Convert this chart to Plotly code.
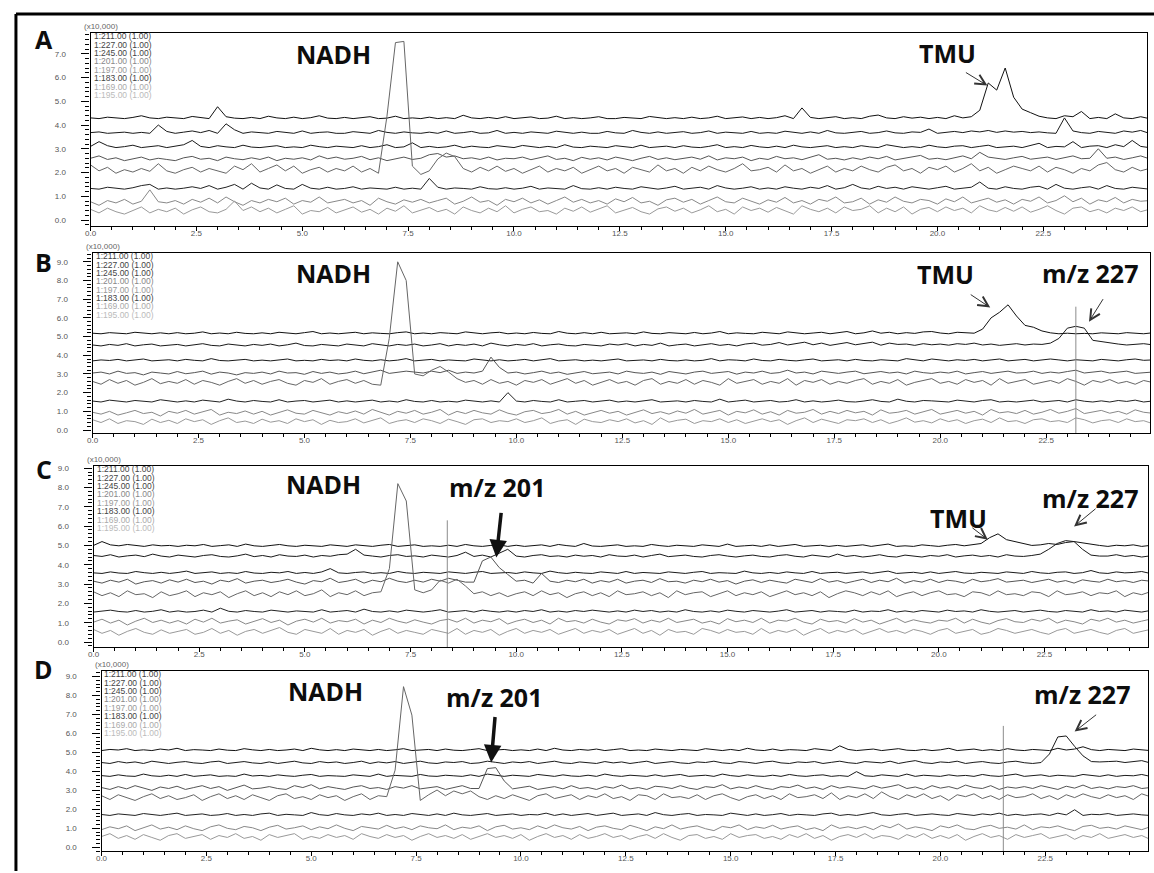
import plotly.graph_objects as go

# Scan times (min), one sample every 0.2 min
TIME = [round(0.2 * i, 1) for i in range(126)]

MZ = ["211", "227", "245", "201", "197", "183", "169", "195"]
LEGEND = ["1:%s.00 (1.00)" % m for m in MZ]
LINE_COLORS = ["#111111", "#1a1a1a", "#1a1a1a", "#555555", "#666666", "#222222", "#888888", "#999999"]
TEXT_COLORS = ["#444444", "#444444", "#444444", "#888888", "#999999", "#444444", "#aaaaaa", "#bbbbbb"]

# Intensities in units of 100 counts (0.01 x10,000) above each trace offset
# ---------------- Sample A ----------------
A_OFFSET = [4.27, 3.65, 3.05, 2.5, 1.97, 1.3, 0.67, 0.25]
A211 = [3, 0, 6, 2, 0, 5, 12, 3, 0, 6,
        2, 0, 9, 4, 0, 50, 8, 2, 0, 5,
        0, 10, 3, 0, 6, 0, 4, 12, 2, 0,
        5, 0, 3, 8, 0, 2, 10, 0, 3, 0,
        6, 0, 4, 0, 14, 3, 0, 5, 0, 8,
        0, 3, 7, 0, 2, 10, 0, 4, 0, 3,
        8, 0, 0, 5, 2, 0, 9, 3, 0, 4,
        0, 6, 0, 3, 10, 0, 2, 7, 0, 5,
        0, 4, 12, 0, 45, 5, 0, 3, 8, 0,
        4, 0, 10, 15, 3, 0, 8, 2, 6, 0,
        5, 0, 12, 3, 8, 35, 150, 120, 213, 90,
        40, 25, 10, 3, 0, 12, 8, 30, 0, 5,
        0, 20, 3, 0, 8, 0]
A227 = [3, 6, 0, 2, 5, 0, 4, 0, 35, 8,
        0, 5, 10, 3, 12, 0, 40, 15, 0, 6,
        2, 0, 8, 3, 0, 10, 0, 4, 6, 0,
        0, 7, 3, 0, 12, 4, 0, 6, 2, 0,
        5, 0, 10, 0, 3, 8, 0, 2, 12, 0,
        4, 0, 6, 2, 0, 9, 3, 0, 5, 0,
        0, 8, 2, 0, 12, 4, 0, 6, 0, 3,
        7, 0, 3, 10, 0, 5, 2, 0, 8, 0,
        3, 0, 9, 4, 0, 6, 0, 12, 2, 0,
        5, 8, 0, 3, 10, 2, 0, 6, 4, 18,
        0, 5, 8, 3, 10, 6, 12, 4, 10, 5,
        8, 3, 6, 2, 0, 65, 10, 3, 0, 8,
        4, 0, 10, 5, 12, 0]
A245 = [5, 25, 8, 0, 4, 10, 0, 3, 8, 0,
        6, 12, 30, 5, 0, 8, 3, 0, 10, 2,
        0, 5, 8, 0, 3, 0, 10, 4, 0, 6,
        2, 0, 8, 0, 4, 12, 0, 3, 20, 0,
        5, 0, 3, 10, 0, 6, 2, 0, 8, 4,
        0, 9, 3, 0, 5, 0, 12, 2, 0, 6,
        3, 0, 8, 4, 0, 10, 0, 3, 6, 0,
        8, 2, 0, 5, 12, 0, 4, 0, 9, 3,
        0, 6, 0, 10, 3, 0, 5, 8, 0, 4,
        0, 8, 3, 0, 12, 5, 0, 4, 0, 10,
        3, 0, 6, 8, 0, 5, 10, 0, 3, 6,
        0, 8, 18, 0, 5, 3, 25, 0, 6, 8,
        0, 12, 4, 30, 5, 0]
A201 = [10, 20, 5, 12, 0, 8, 15, 3, 10, 5,
        0, 12, 18, 6, 10, 0, 15, 8, 4, 12,
        5, 15, 0, 10, 6, 12, 3, 20, 8, 15,
        6, 10, 18, 4, 12, 0, 8, 15, 5, 10,
        25, 30, 15, 20, 8, 12, 5, 15, 3, 10,
        8, 15, 4, 12, 20, 5, 10, 0, 14, 6,
        12, 3, 15, 8, 0, 10, 18, 5, 12, 4,
        10, 15, 6, 20, 3, 12, 8, 15, 0, 10,
        5, 18, 8, 12, 4, 15, 25, 6, 10, 3,
        12, 5, 15, 8, 18, 3, 10, 15, 22, 6,
        10, 4, 12, 20, 8, 35, 15, 10, 5, 12,
        18, 6, 10, 15, 5, 12, 20, 8, 10, 50,
        10, 15, 5, 12, 20, 8]
A197 = [35, 10, 25, 0, 15, 5, 20, 8, 40, 10,
        0, 15, 25, 5, 20, 10, 0, 30, 15, 40,
        5, 20, 35, 10, 30, 0, 15, 25, 5, 20,
        10, 30, 5, 20, 0, 240, 550, 555, 30, -5,
        10, 60, 85, 70, 20, 5, 25, 10, 30, 8,
        20, 0, 15, 30, 5, 20, 10, 25, 0, 15,
        30, 10, 20, 0, 25, 15, 5, 35, 10, 20,
        0, 25, 10, 30, 15, 5, 20, 40, 10, 15,
        25, 5, 35, 10, 20, 0, 15, 30, 5, 20,
        10, 30, 15, 5, 25, 35, 10, 20, 0, 25,
        15, 30, 5, 20, 40, 10, 25, 0, 15, 30,
        20, 10, 30, 5, 25, 15, 0, 20, 10, 35,
        45, 15, 5, 25, 10, 20]
A183 = [3, 0, 8, 4, 0, 6, 15, 20, 0, 5,
        0, 4, 10, 3, 15, 0, 8, 20, 0, 25,
        5, 0, 18, 3, 0, 20, 4, 0, 8, 0,
        3, 10, 0, 5, 2, 0, 8, 0, 4, 0,
        45, 8, 0, 5, 3, 0, 10, 2, 0, 6,
        0, 4, 12, 0, 5, 3, 0, 15, 2, 0,
        6, 0, 8, 3, 0, 10, 4, 0, 5, 12,
        0, 3, 8, 0, 15, 5, 0, 4, 10, 0,
        5, 0, 10, 4, 0, 8, 3, 15, 0, 6,
        20, 5, 0, 12, 3, 8, 0, 10, 4, 0,
        6, 12, 0, 5, 8, 30, 4, 0, 10, 3,
        0, 8, 12, 0, 20, 4, 0, 6, 10, 0,
        15, 3, 0, 8, 5, 0]
A169 = [10, -5, 15, 5, 20, 0, 12, 60, 10, 5,
        15, 0, 20, 8, 25, 5, 30, 10, -5, 15,
        5, 20, 10, 25, 0, 15, 8, 30, 5, 12,
        20, 5, 15, -5, 25, 10, 0, 18, 8, 20,
        5, 15, 25, 0, 12, 30, 8, 15, -5, 20,
        10, 25, 5, 18, 0, 15, 30, 8, 20, 5,
        15, 0, 22, 10, 28, 5, 12, -5, 18, 25,
        8, 20, 0, 15, 30, 10, 5, 25, 12, 0,
        18, 8, 28, 5, 15, 0, 20, 12, 30, 5,
        10, 25, 0, 18, 8, 30, 12, 5, 20, 15,
        0, 22, 10, 30, 5, 15, 25, 8, 18, 0,
        20, 12, 30, 5, 15, 35, 10, 25, 0, 18,
        10, 28, 5, 20, 12, 15]
A195 = [20, 5, 25, 10, 0, 15, 30, 5, 20, 10,
        25, 0, 18, 30, 10, 5, 20, 55, 15, 30,
        10, 25, 5, 20, 35, 0, 15, 10, 28, 5,
        18, 30, 8, 20, 0, 25, 12, 35, 5, 15,
        28, 10, 20, 0, 30, 15, 5, 25, 10, 35,
        5, 20, 30, 10, 15, 0, 25, 12, 30, 8,
        20, 35, 5, 15, 28, 10, 0, 22, 30, 12,
        25, 5, 18, 35, 10, 20, 0, 30, 15, 25,
        8, 28, 15, 0, 35, 20, 10, 25, 5, 30,
        15, 20, 35, 5, 25, 10, 30, 0, 20, 28,
        10, 30, 15, 25, 5, 35, 18, 10, 28, 12,
        30, 8, 20, 35, 15, 0, 25, 30, 10, 20,
        5, 25, 15, 30, 10, 20]

# ---------------- Sample B ----------------
B_OFFSET = [5.15, 4.5, 3.7, 2.95, 2.4, 1.5, 0.8, 0.3]
B211 = [3, 0, 6, 2, 0, 8, 4, 0, 5, 0,
        6, 0, 3, 10, 0, 4, 0, 8, 2, 0,
        5, 0, 8, 3, 0, 6, 12, 0, 4, 0,
        3, 8, 0, 5, 2, 0, 6, 10, 0, 4,
        0, 6, 3, 0, 10, 4, 0, 5, 8, 0,
        4, 0, 7, 2, 0, 12, 3, 0, 6, 0,
        8, 0, 3, 5, 0, 10, 2, 0, 6, 3,
        0, 7, 0, 4, 12, 0, 5, 2, 0, 8,
        3, 0, 10, 5, 0, 4, 8, 0, 6, 12,
        0, 5, 15, 3, 8, 0, 6, 2, 10, 12,
        4, 0, 8, 5, 3, 25, 85, 115, 155, 95,
        45, 35, 15, 5, 0, 3, 0, 2, 0, 5,
        3, 0, 6, 4, 0, 5]
B227 = [5, 0, 8, 3, 12, 0, 6, 10, 0, 4,
        8, 0, 5, 12, 3, 0, 10, 6, 0, 8,
        3, 10, 0, 6, 15, 2, 0, 8, 5, 0,
        10, 4, 0, 12, 6, 0, 8, 3, 10, 0,
        5, 12, 0, 8, 3, 10, 0, 15, 6, 0,
        8, 3, 12, 0, 6, 10, 2, 0, 8, 5,
        0, 10, 5, 12, 0, 8, 3, 15, 0, 6,
        10, 0, 6, 12, 3, 8, 0, 10, 15, 4,
        8, 18, 5, 12, 20, 6, 15, 3, 10, 18,
        6, 12, 20, 4, 15, 8, 10, 3, 12, 6,
        10, 4, 12, 8, 15, 5, 10, 3, 8, 12,
        5, 10, 8, 15, 40, 95, 105, 95, 30, 22,
        15, 10, 5, 8, 12, 6]
B245 = [0, 5, 2, 8, 0, 4, 10, 0, 3, 6,
        0, 8, 3, 0, 12, 2, 0, 5, 8, 0,
        4, 0, 6, 10, 0, 3, 0, 8, 2, 5,
        0, 10, 3, 0, 6, 0, 4, 12, 0, 3,
        8, 0, 5, 2, 0, 10, 3, 0, 6, 0,
        3, 8, 0, 5, 12, 0, 2, 6, 0, 4,
        0, 6, 10, 0, 3, 5, 0, 8, 2, 0,
        5, 0, 3, 12, 0, 6, 4, 0, 10, 2,
        0, 8, 3, 0, 5, 10, 0, 4, 6, 0,
        8, 2, 0, 6, 3, 0, 12, 4, 0, 10,
        3, 0, 6, 2, 8, 0, 5, 10, 0, 4,
        8, 0, 3, 10, 5, 0, 6, 2, 0, 8,
        4, 0, 6, 10, 3, 5]
B201 = [10, 15, 5, 20, 8, 12, 0, 15, 10, 5,
        18, 6, 12, 20, 4, 15, 10, 0, 12, 8,
        15, 5, 20, 10, 12, 3, 18, 8, 15, 5,
        10, 20, 6, 15, 25, 8, 12, 20, 15, 10,
        20, 12, 25, 8, 15, 10, 20, 95, 40, 10,
        15, 5, 12, 20, 8, 15, 3, 12, 18, 6,
        10, 15, 5, 20, 12, 8, 15, 3, 18, 10,
        5, 15, 20, 8, 12, 18, 4, 15, 10, 20,
        8, 12, 25, 10, 15, 5, 20, 12, 8, 15,
        20, 6, 12, 18, 10, 15, 5, 20, 12, 8,
        15, 10, 20, 5, 12, 18, 8, 15, 20, 10,
        12, 20, 8, 15, 10, 18, 25, 10, 15, 20,
        10, 15, 20, 8, 12, 15]
B197 = [20, 5, 30, 10, 25, 0, 15, 35, 8, 20,
        10, 30, 5, 25, 15, 0, 20, 35, 10, 25,
        5, 20, 30, 10, 0, 25, 15, 35, 5, 20,
        30, 10, 25, 5, 0, 250, 660, 560, 60, 50,
        80, 100, 70, 35, 15, 25, 5, 30, 10, 20,
        0, 25, 15, 30, 5, 20, 35, 10, 25, 0,
        15, 30, 10, 20, 0, 25, 35, 5, 20, 10,
        30, 5, 25, 15, 0, 35, 10, 20, 30, 5,
        20, 10, 35, 0, 25, 15, 30, 5, 20, 10,
        25, 35, 5, 20, 10, 30, 0, 15, 25, 35,
        10, 20, 5, 30, 15, 25, 0, 35, 10, 20,
        30, 5, 15, 25, 10, 35, 20, 0, 25, 15,
        30, 10, 20, 5, 25, 15]
B183 = [5, 0, 10, 3, 0, 8, 2, 0, 12, 4,
        0, 6, 0, 10, 3, 0, 15, 5, 0, 8,
        3, 0, 12, 0, 5, 8, 0, 4, 10, 0,
        6, 0, 3, 10, 0, 5, 0, 12, 3, 0,
        8, 0, 4, 0, 10, 3, 0, 6, 0, 50,
        5, 0, 8, 3, 0, 12, 0, 4, 8, 0,
        3, 10, 0, 5, 0, 8, 12, 0, 3, 6,
        0, 8, 3, 0, 15, 0, 5, 10, 0, 4,
        8, 0, 3, 12, 0, 6, 0, 4, 10, 2,
        0, 5, 12, 3, 0, 15, 4, 0, 8, 6,
        3, 0, 10, 5, 0, 8, 12, 0, 4, 0,
        6, 10, 0, 3, 8, 0, 12, 4, 0, 6,
        0, 8, 3, 10, 0, 5]
B169 = [15, 5, 20, 0, 12, 25, 8, 15, -5, 20,
        10, 25, 5, 18, 30, 0, 15, 8, 22, 5,
        20, 0, 15, 28, 10, 5, 25, 12, 0, 18,
        8, 22, 5, 30, 15, 0, 20, 10, 25, 5,
        15, 30, 0, 20, 8, 25, 12, 5, 28, 10,
        0, 18, 25, 8, 15, 30, 5, 20, 0, 12,
        25, 10, 20, 0, 15, 28, 8, 18, 5, 22,
        10, 30, 5, 15, 25, 0, 20, 12, 28, 5,
        18, 0, 25, 10, 15, 30, 5, 20, 8, 25,
        12, 20, 0, 28, 10, 15, 25, 5, 18, 30,
        5, 15, 25, 10, 20, 0, 30, 12, 18, 8,
        25, 5, 15, 30, 10, 20, 35, 8, 15, 25,
        10, 20, 5, 28, 15, 10]
B195 = [25, 10, 30, 5, 20, 15, 0, 28, 10, 22,
        5, 30, 15, 25, 0, 20, 35, 10, 18, 5,
        28, 12, 20, 5, 30, 15, 25, 0, 22, 10,
        15, 30, 8, 20, 35, 5, 18, 25, 10, 30,
        20, 5, 28, 15, 0, 25, 30, 10, 20, 15,
        30, 10, 20, 35, 5, 18, 25, 0, 28, 15,
        10, 25, 15, 30, 8, 20, 0, 35, 12, 22,
        28, 5, 20, 15, 30, 10, 25, 5, 18, 30,
        15, 25, 0, 20, 35, 10, 28, 15, 5, 25,
        20, 30, 10, 25, 5, 18, 35, 12, 20, 8,
        30, 15, 25, 5, 20, 28, 10, 35, 15, 20,
        5, 25, 30, 15, 20, 10, 35, 25, 8, 20,
        25, 10, 30, 15, 20, 5]

# ---------------- Sample C ----------------
C_OFFSET = [4.95, 4.4, 3.55, 3.0, 2.3, 1.55, 0.93, 0.35]
C211 = [5, 25, 8, 3, 10, 6, 0, 8, 3, 5,
        0, 6, 3, 10, 0, 4, 8, 0, 12, 3,
        0, 5, 10, 3, 0, 6, 2, 0, 8, 4,
        0, 8, 3, 0, 6, 10, 0, 4, 8, 0,
        3, 0, 6, 0, 10, 3, 0, 5, 8, 0,
        6, 0, 3, 8, 0, 10, 4, 0, 15, 2,
        0, 5, 8, 0, 3, 0, 10, 4, 0, 6,
        3, 0, 8, 5, 0, 12, 0, 3, 6, 0,
        8, 0, 4, 10, 0, 3, 6, 0, 5, 0,
        4, 8, 0, 5, 12, 0, 3, 0, 8, 4,
        0, 6, 10, 3, 8, 15, 45, 65, 35, 25,
        12, 5, 8, 15, 10, 20, 25, 18, 10, 5,
        0, 6, 3, 8, 0, 5]
C227 = [8, 3, 12, 0, 6, 10, 2, 15, 5, 0,
        10, 4, 0, 8, 12, 3, 0, 6, 15, 2,
        8, 0, 12, 5, 3, 10, 0, 8, 4, 12,
        15, 40, 10, 5, 0, 8, 12, 3, 6, 0,
        10, 5, 0, 8, 25, 3, 10, 0, 20, 40,
        5, 0, 8, 12, 3, 6, 0, 10, 4, 8,
        0, 12, 5, 3, 10, 0, 8, 15, 2, 6,
        10, 3, 0, 8, 12, 5, 0, 6, 10, 3,
        0, 8, 12, 4, 0, 10, 6, 0, 15, 3,
        8, 0, 5, 12, 3, 0, 10, 6, 0, 8,
        4, 12, 0, 6, 10, 3, 8, 0, 12, 5,
        3, 8, 15, 40, 70, 85, 80, 40, 10, 5,
        5, 12, 3, 8, 0, 6]
C245 = [3, 0, 8, 2, 0, 10, 4, 0, 6, 0,
        5, 12, 0, 3, 8, 0, 4, 0, 10, 2,
        0, 6, 3, 10, 0, 5, 0, 8, 25, 3,
        0, 5, 8, 0, 4, 0, 10, 3, 0, 6,
        2, 0, 8, 4, 0, 6, 10, 0, 3, 5,
        0, 8, 3, 0, 12, 4, 0, 6, 2, 0,
        8, 3, 0, 10, 0, 5, 3, 0, 8, 4,
        0, 6, 10, 0, 4, 2, 0, 12, 3, 0,
        5, 0, 8, 3, 0, 10, 0, 4, 6, 0,
        3, 8, 0, 5, 12, 0, 3, 6, 0, 8,
        0, 4, 10, 2, 0, 6, 3, 0, 8, 5,
        0, 10, 3, 0, 6, 8, 0, 4, 15, 3,
        0, 8, 3, 5, 10, 0]
C201 = [15, 5, 20, 10, 25, 0, 12, 18, 5, 22,
        10, 25, 8, 15, 0, 20, 12, 28, 5, 15,
        20, 8, 15, 25, 10, 0, 18, 12, 30, 8,
        15, 25, 5, 20, 12, 30, 15, 8, 20, 10,
        25, 15, 30, 20, 10, 10, 120, 140, 85, 50,
        15, 20, 5, 55, 15, 8, 20, 12, 25, 5,
        18, 10, 25, 5, 15, 20, 8, 28, 12, 15,
        5, 20, 12, 25, 10, 18, 0, 15, 22, 8,
        20, 12, 5, 25, 15, 8, 28, 10, 18, 5,
        15, 25, 8, 20, 12, 30, 5, 18, 10, 25,
        8, 20, 15, 5, 25, 12, 18, 28, 10, 15,
        20, 8, 15, 25, 10, 18, 5, 22, 15, 10,
        25, 12, 18, 8, 20, 15]
C197 = [30, 10, 25, 5, 35, 15, 20, 0, 30, 10,
        20, 35, 5, 25, 15, 30, 0, 20, 35, 10,
        25, 5, 30, 15, 35, 10, 20, 40, 5, 25,
        15, 35, 10, 25, 30, 150, 590, 500, 40, 25,
        40, 90, 75, 95, 60, 20, 30, 10, 25, 5,
        20, 30, 10, 35, 15, 25, 0, 20, 30, 10,
        25, 5, 35, 15, 20, 30, 10, 25, 0, 35,
        15, 25, 30, 5, 20, 35, 10, 25, 15, 30,
        5, 20, 35, 15, 25, 10, 30, 0, 20, 35,
        25, 10, 30, 15, 35, 5, 20, 30, 10, 25,
        35, 15, 20, 5, 30, 25, 10, 35, 15, 20,
        10, 30, 25, 5, 35, 15, 20, 30, 10, 25,
        20, 35, 5, 25, 15, 30]
C183 = [0, 5, 10, 3, 0, 8, 0, 4, 12, 0,
        6, 0, 3, 10, 0, 20, 4, 0, 8, 3,
        0, 10, 5, 0, 6, 3, 0, 12, 0, 4,
        8, 0, 15, 3, 0, 6, 0, 10, 4, 0,
        5, 12, 0, 3, 8, 0, 10, 4, 0, 6,
        0, 8, 3, 12, 0, 5, 0, 8, 3, 10,
        4, 0, 6, 0, 10, 3, 8, 0, 5, 0,
        12, 3, 0, 6, 0, 10, 4, 0, 8, 3,
        0, 5, 12, 0, 4, 8, 0, 6, 3, 0,
        10, 0, 5, 3, 12, 0, 6, 0, 8, 4,
        0, 10, 3, 6, 0, 12, 4, 0, 5, 8,
        0, 6, 10, 3, 0, 8, 5, 0, 12, 3,
        6, 0, 10, 4, 0, 8]
C169 = [10, 25, 5, 20, -5, 15, 30, 8, 20, 5,
        18, 0, 25, 10, 30, 5, 15, 22, 0, 12,
        28, 8, 20, -5, 15, 25, 10, 30, 5, 18,
        12, 25, 0, 20, 8, 30, 15, 5, 22, 10,
        0, 18, 25, 10, 30, 5, 20, 12, 28, 0,
        15, 25, 8, 20, 0, 30, 12, 18, 5, 25,
        10, 0, 22, 15, 28, 5, 20, 10, 30, 8,
        18, 25, 5, 15, 0, 28, 12, 20, 8, 30,
        5, 20, 15, 30, 10, 0, 25, 12, 18, 5,
        28, 10, 20, 0, 15, 30, 8, 22, 12, 5,
        20, 15, 30, 5, 25, 10, 0, 18, 28, 12,
        8, 25, 15, 30, 5, 20, 12, 0, 25, 15,
        30, 10, 20, 5, 15, 25]
C195 = [30, 10, 25, 0, 20, 35, 15, 5, 28, 10,
        20, 30, 5, 15, 35, 10, 25, 0, 20, 30,
        10, 25, 40, 15, 5, 30, 20, 10, 35, 5,
        25, 15, 30, 0, 20, 35, 10, 25, 15, 5,
        30, 20, 10, 35, 5, 25, 15, 30, 0, 20,
        35, 10, 25, 15, 30, 5, 20, 35, 10, 25,
        15, 30, 5, 20, 35, 10, 25, 0, 30, 15,
        20, 5, 35, 25, 10, 30, 15, 20, 5, 35,
        10, 25, 15, 30, 0, 20, 35, 10, 25, 15,
        30, 5, 20, 35, 15, 25, 10, 30, 20, 5,
        25, 35, 10, 20, 30, 5, 15, 35, 25, 10,
        20, 30, 15, 5, 25, 35, 10, 20, 30, 15,
        5, 25, 35, 10, 20, 30]

# ---------------- Sample D ----------------
D_OFFSET = [5.1, 4.42, 3.74, 3.0, 2.47, 1.68, 0.88, 0.37]
D211 = [0, 6, 3, 10, 0, 4, 0, 8, 3, 12,
        0, 5, 3, 0, 8, 2, 0, 10, 4, 0,
        6, 0, 3, 8, 0, 12, 4, 0, 5, 0,
        8, 3, 0, 6, 0, 4, 10, 0, 3, 6,
        0, 8, 2, 0, 5, 10, 0, 3, 6, 0,
        4, 0, 8, 0, 12, 3, 0, 6, 2, 8,
        0, 5, 10, 0, 3, 0, 8, 4, 0, 6,
        3, 0, 10, 4, 0, 6, 0, 12, 3, 0,
        8, 0, 5, 3, 0, 10, 4, 0, 25, 6,
        0, 3, 8, 0, 5, 10, 2, 0, 6, 0,
        4, 12, 0, 3, 8, 0, 5, 0, 10, 3,
        0, 6, 4, 0, 12, 3, 8, 20, 5, 0,
        6, 3, 0, 8, 4, 0]
D227 = [5, 0, 10, 3, 8, 0, 12, 4, 0, 6,
        10, 3, 0, 8, 12, 0, 5, 10, 3, 0,
        8, 0, 6, 12, 3, 0, 10, 4, 8, 0,
        5, 12, 0, 8, 3, 10, 0, 6, 12, 3,
        0, 8, 5, 10, 0, 3, 12, 6, 0, 8,
        4, 10, 0, 6, 12, 3, 0, 8, 5, 0,
        10, 3, 8, 0, 6, 12, 0, 4, 10, 3,
        0, 8, 5, 12, 3, 0, 10, 6, 0, 8,
        12, 3, 0, 8, 5, 10, 0, 6, 12, 4,
        0, 10, 6, 3, 12, 0, 8, 15, 4, 0,
        8, 5, 12, 0, 6, 10, 3, 0, 8, 12,
        4, 0, 5, 50, 140, 145, 90, 40, 10, 8,
        10, 12, 5, 8, 15, 3]
D245 = [4, 0, 8, 2, 0, 12, 3, 0, 6, 0,
        10, 0, 4, 8, 0, 3, 0, 12, 2, 5,
        0, 8, 3, 0, 6, 10, 0, 4, 2, 0,
        8, 3, 0, 12, 0, 5, 4, 0, 10, 2,
        0, 6, 3, 0, 8, 0, 12, 4, 0, 6,
        3, 0, 10, 5, 0, 8, 2, 0, 6, 0,
        12, 4, 0, 6, 3, 0, 8, 0, 5, 10,
        0, 3, 6, 0, 12, 4, 0, 8, 2, 0,
        6, 0, 10, 3, 0, 5, 8, 0, 4, 0,
        25, 3, 0, 8, 4, 0, 12, 0, 6, 3,
        0, 8, 2, 5, 0, 10, 3, 0, 6, 12,
        0, 4, 8, 0, 6, 3, 0, 10, 4, 0,
        8, 0, 5, 3, 10, 0]
D201 = [15, 5, 20, 8, 25, 12, 0, 18, 10, 22,
        5, 15, 25, 10, 20, 0, 15, 28, 8, 12,
        20, 10, 5, 25, 15, 30, 8, 20, 12, 5,
        18, 25, 10, 15, 5, 20, 12, 25, 8, 15,
        20, 5, 15, 25, 10, 10, 115, 120, 50, 8,
        15, 22, 5, 12, 20, 8, 25, 10, 15, 5,
        20, 12, 28, 8, 15, 5, 22, 18, 10, 25,
        12, 5, 20, 15, 30, 8, 18, 10, 25, 12,
        5, 20, 15, 28, 10, 18, 5, 25, 12, 20,
        15, 8, 25, 12, 20, 30, 10, 18, 5, 25,
        12, 20, 8, 28, 15, 10, 25, 5, 18, 12,
        20, 10, 25, 15, 5, 22, 12, 28, 10, 18,
        8, 20, 15, 25, 10, 15]
D197 = [25, 5, 30, 15, 0, 20, 35, 10, 25, 5,
        15, 30, 0, 20, 35, 10, 25, 5, 30, 15,
        0, 25, 35, 10, 20, 5, 30, 15, 25, 0,
        20, 35, 5, 25, 20, 160, 600, 450, 0, 30,
        55, 25, 50, 35, 50, 20, 5, 25, 10, 30,
        15, 0, 25, 35, 10, 20, 30, 5, 25, 15,
        35, 10, 20, 0, 30, 25, 5, 35, 15, 20,
        10, 30, 5, 25, 35, 15, 0, 20, 30, 10,
        25, 5, 35, 15, 20, 30, 10, 40, 5, 25,
        15, 35, 10, 45, 20, 5, 30, 15, 35, 10,
        25, 0, 30, 20, 35, 10, 25, 5, 30, 15,
        20, 35, 10, 25, 5, 30, 15, 35, 20, 10,
        30, 15, 25, 5, 35, 20]
D183 = [5, 0, 8, 3, 0, 10, 4, 0, 6, 12,
        0, 4, 8, 0, 3, 10, 0, 5, 0, 8,
        12, 0, 6, 3, 0, 15, 4, 0, 10, 3,
        0, 8, 3, 12, 0, 5, 0, 10, 4, 0,
        8, 0, 12, 3, 0, 6, 10, 0, 4, 8,
        0, 5, 3, 12, 0, 8, 0, 4, 10, 0,
        6, 12, 0, 3, 8, 0, 15, 4, 0, 6,
        10, 0, 5, 3, 0, 12, 4, 0, 8, 0,
        4, 10, 0, 6, 3, 0, 8, 12, 0, 5,
        0, 8, 15, 3, 0, 6, 10, 0, 4, 8,
        3, 0, 10, 5, 0, 8, 3, 12, 0, 6,
        0, 5, 8, 0, 12, 3, 30, 0, 6, 4,
        10, 0, 5, 8, 3, 0]
D169 = [5, 20, 10, 25, 0, 15, 30, 8, 18, 5,
        25, 10, 0, 20, 30, 12, 5, 22, 15, 0,
        18, 28, 8, 15, 25, 5, 20, 10, 30, 12,
        0, 22, 15, 8, 28, 10, 20, 5, 25, 15,
        10, 30, 5, 18, 12, 25, 0, 20, 28, 8,
        15, 5, 25, 10, 30, 15, 8, 22, 0, 18,
        25, 12, 5, 28, 15, 0, 20, 10, 30, 8,
        18, 25, 10, 0, 22, 15, 30, 5, 20, 12,
        28, 8, 18, 25, 5, 15, 0, 30, 12, 20,
        10, 22, 5, 28, 15, 35, 8, 20, 12, 0,
        25, 15, 30, 10, 5, 20, 28, 12, 18, 8,
        30, 5, 20, 15, 25, 10, 0, 22, 28, 12,
        18, 8, 25, 15, 5, 20]
D195 = [20, 35, 10, 25, 5, 30, 15, 0, 25, 35,
        10, 20, 30, 5, 25, 15, 35, 10, 20, 0,
        30, 15, 25, 35, 5, 20, 10, 30, 15, 25,
        5, 35, 20, 10, 30, 15, 25, 0, 20, 35,
        15, 25, 10, 30, 5, 20, 35, 15, 25, 10,
        30, 0, 20, 35, 15, 25, 5, 30, 10, 20,
        35, 15, 25, 5, 20, 30, 10, 35, 15, 0,
        25, 30, 10, 20, 5, 35, 15, 25, 30, 10,
        20, 5, 30, 15, 35, 10, 25, 0, 20, 30,
        15, 35, 10, 25, 20, 5, 30, 15, 35, 10,
        25, 10, 30, 0, 20, 35, 15, 25, 5, 30,
        15, 25, 35, 10, 20, 30, 5, 25, 15, 35,
        10, 20, 30, 15, 25, 5]

# Cursor line (time, top of line) drawn by the acquisition software
CURSORS = [None, (23.2, 6.6), (8.37, 6.3), (21.5, 6.4)]

W, H = 1154, 873
X_MAX = 24.95


def px(x):
    return x / W


def py(y):
    return 1 - y / H


panels = [
    dict(letter="A", traces=[A211, A227, A245, A201, A197, A183, A169, A195], offset=A_OFFSET,
         box=(85, 1147, 31, 225), yrange=[-0.25, 7.88], letter_pos=(38, 37),
         labels=[("NADH", 329, 52), ("TMU", 946, 51)],
         arrows=[(21.18, 5.66, -23, -14, "thin")]),
    dict(letter="B", traces=[B211, B227, B245, B201, B197, B183, B169, B195], offset=B_OFFSET,
         box=(87, 1150, 252, 433), yrange=[-0.16, 9.48], letter_pos=(38, 261),
         labels=[("NADH", 329, 272), ("TMU", 944, 273), ("m/z 227", 1090, 272)],
         arrows=[(21.18, 6.55, -21, -14, "thin"), (23.51, 5.8, 15, -24, "thin")]),
    dict(letter="C", traces=[C211, C227, C245, C201, C197, C183, C169, C195], offset=C_OFFSET,
         box=(88, 1148, 466, 648), yrange=[-0.26, 9.12], letter_pos=(38, 469),
         labels=[("NADH", 319, 484), ("m/z 201", 494, 487), ("TMU", 957, 518), ("m/z 227", 1090, 498)],
         arrows=[(9.53, 4.38, 5, -46, "bold"), (21.16, 5.3, -17, -13, "thin"), (23.2, 5.98, 23, -19, "thin")]),
    dict(letter="D", traces=[D211, D227, D245, D201, D197, D183, D169, D195], offset=D_OFFSET,
         box=(96, 1148, 672, 853), yrange=[-0.2, 9.3], letter_pos=(38, 670),
         labels=[("NADH", 321, 692), ("m/z 201", 491, 698), ("m/z 227", 1082, 695)],
         arrows=[(9.29, 4.47, 4, -47, "bold"), (23.2, 6.1, 23, -18, "thin")]),
]

fig = go.Figure()
annotations = []
tick_font = dict(family="Liberation Sans, Arial, sans-serif", size=8, color="#555555")
label_font = dict(family="Open Sans, sans-serif", size=25, color="#0d0d0d", weight="bold")

for k, p in enumerate(panels):
    n = "" if k == 0 else str(k + 1)
    xa, ya = "x" + n, "y" + n
    x0, x1, y0, y1 = p["box"]

    for j, vals in enumerate(p["traces"]):
        base = p["offset"][j]
        fig.add_trace(go.Scatter(
            x=TIME[:len(vals)], y=[base + v / 100.0 for v in vals],
            mode="lines", line=dict(color=LINE_COLORS[j], width=1),
            xaxis=xa, yaxis=ya, hoverinfo="skip", showlegend=False))

    cur = CURSORS[k]
    if cur is not None:
        fig.add_trace(go.Scatter(
            x=[cur[0], cur[0]], y=[cur[1], p["yrange"][0]], mode="lines",
            line=dict(color="#8c8c8c", width=1), xaxis=xa, yaxis=ya,
            hoverinfo="skip", showlegend=False))

    fig.layout["xaxis" + n] = dict(
        domain=[px(x0), px(x1)], anchor=ya, range=[0, X_MAX],
        tick0=0, dtick=2.5, tickformat=".1f", ticks="outside", ticklen=4,
        tickwidth=1, tickcolor="#000000",
        minor=dict(tick0=0, dtick=0.5, ticks="outside", ticklen=3, tickcolor="#000000"),
        showline=True, linecolor="#000000", linewidth=1.2, mirror=True,
        showgrid=False, zeroline=False, tickfont=tick_font, ticklabelstandoff=-5)
    fig.layout["yaxis" + n] = dict(
        domain=[py(y1), py(y0)], anchor=xa, range=p["yrange"],
        tick0=0, dtick=1, tickformat=".1f", ticks="outside", ticklen=8,
        tickwidth=1, tickcolor="#000000",
        minor=dict(tick0=0, dtick=0.2, ticks="outside", ticklen=4, tickcolor="#000000"),
        showline=True, linecolor="#000000", linewidth=1.2, mirror=True,
        showgrid=False, zeroline=False, tickfont=tick_font, ticklabelstandoff=14)

    # scale factor note above the y axis
    annotations.append(dict(text="(x10,000)", x=px(x0 - 9), y=py(y0 - 6), xref="paper", yref="paper",
                            xanchor="left", yanchor="middle", showarrow=False,
                            font=dict(family="Liberation Sans, Arial, sans-serif", size=8, color="#666666")))
    # channel list in the corner of the plot
    for j, txt in enumerate(LEGEND):
        annotations.append(dict(text=txt, x=px(x0 + 1), y=py(y0 + 3.5 + 8.4 * j), xref="paper", yref="paper",
                                xanchor="left", yanchor="middle", showarrow=False,
                                font=dict(family="Liberation Sans, Arial, sans-serif", size=8.5,
                                          color=TEXT_COLORS[j])))
    # panel letter
    lx, ly = p["letter_pos"]
    annotations.append(dict(text=p["letter"], x=px(lx), y=py(ly), xref="paper", yref="paper",
                            xanchor="center", yanchor="middle", showarrow=False, font=label_font))
    for txt, tx, ty in p["labels"]:
        annotations.append(dict(text=txt, x=px(tx), y=py(ty), xref="paper", yref="paper",
                                xanchor="center", yanchor="middle", showarrow=False, font=label_font))
    for hx, hy, ax, ay, style in p["arrows"]:
        if style == "bold":
            annotations.append(dict(text="", x=hx, y=hy, xref=xa, yref=ya, ax=ax, ay=ay,
                                    showarrow=True, arrowhead=2, arrowsize=1, arrowwidth=3.5,
                                    arrowcolor="#111111"))
        else:
            annotations.append(dict(text="", x=hx, y=hy, xref=xa, yref=ya, ax=ax, ay=ay,
                                    showarrow=True, arrowhead=5, arrowsize=2, arrowwidth=1,
                                    arrowcolor="#333333"))

# frame around the figure (top and left edges)
shapes = [
    dict(type="line", xref="paper", yref="paper", x0=px(10), y0=py(12), x1=1, y1=py(12),
         line=dict(color="#000000", width=3)),
    dict(type="line", xref="paper", yref="paper", x0=px(10), y0=py(12), x1=px(10), y1=0,
         line=dict(color="#000000", width=3)),
]

fig.update_layout(
    width=W, height=H, margin=dict(l=0, r=0, t=0, b=0),
    paper_bgcolor="#ffffff", plot_bgcolor="#ffffff",
    showlegend=False, annotations=annotations, shapes=shapes)

fig.write_html("out.html")
